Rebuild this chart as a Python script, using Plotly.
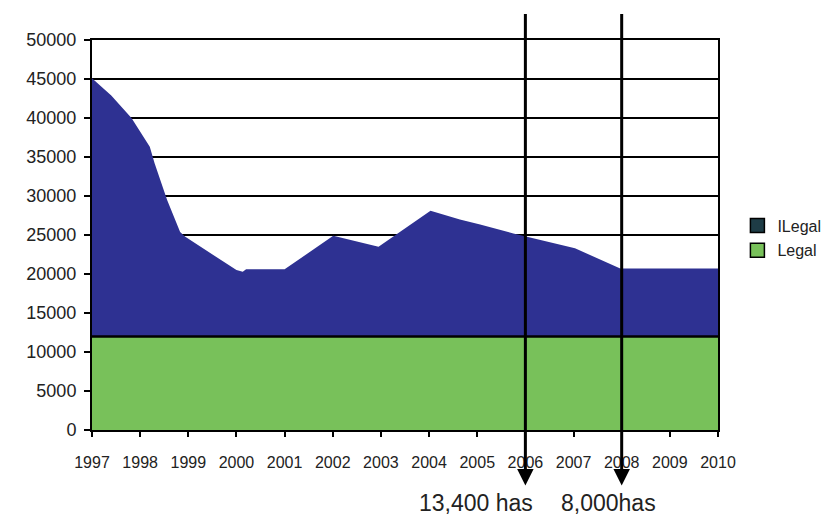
import plotly.graph_objects as go

# Data
years = [1997.0, 1997.4, 1997.82, 1998.2, 1998.3, 1998.56, 1998.83, 1998.93,
         2000.0, 2000.13, 2000.2, 2001.0, 2002.01, 2002.95, 2004.03, 2004.64,
         2005.06, 2005.75, 2007.03, 2007.97, 2010.0]
legal = [12000, 12000, 12000, 12000, 12000, 12000, 12000, 12000,
         12000, 12000, 12000, 12000, 12000, 12000, 12000, 12000,
         12000, 12000, 12000, 12000, 12000]
ilegal = [33100, 30900, 28000, 24300, 22200, 17500, 13400, 12800,
          8500, 8300, 8600, 8600, 12900, 11500, 16100, 15000,
          14350, 13200, 11300, 8700, 8700]

tick_years = [1997, 1998, 1999, 2000, 2001, 2002, 2003, 2004, 2005, 2006,
              2007, 2008, 2009, 2010]
y_ticks = [0, 5000, 10000, 15000, 20000, 25000, 30000, 35000, 40000, 45000, 50000]

arrow_years = [2006, 2008]
arrow_labels = ["13,400 has", "8,000has"]
arrow_label_x = [2004.97, 2007.72]

GREEN = "#78c15a"
BLUE = "#2e3192"
DARK = "#1e3c46"
FONT = "Liberation Sans, Arial, sans-serif"

fig = go.Figure()

fig.add_trace(go.Scatter(
    x=years, y=legal, stackgroup="s", mode="lines",
    line=dict(color="black", width=2.5), fillcolor=GREEN,
    name="Legal", showlegend=False, hoverinfo="skip"))
fig.add_trace(go.Scatter(
    x=years, y=ilegal, stackgroup="s", mode="lines",
    line=dict(color=BLUE, width=0), fillcolor=BLUE,
    name="ILegal", showlegend=False, hoverinfo="skip"))

# legend entries
fig.add_trace(go.Scatter(x=[None], y=[None], name="ILegal", legendgroup="a",
                         mode="markers",
                         marker=dict(symbol="square", size=14, color=DARK,
                                     line=dict(color="black", width=1.5))))
fig.add_trace(go.Scatter(x=[None], y=[None], name="Legal", legendgroup="b",
                         mode="markers",
                         marker=dict(symbol="square", size=14, color=GREEN,
                                     line=dict(color="black", width=1.5))))

for yr, lab, lx in zip(arrow_years, arrow_labels, arrow_label_x):
    fig.add_annotation(x=yr, y=-0.142, ax=0, ay=-473,
                       xref="x", yref="paper", axref="pixel", ayref="pixel",
                       text="", showarrow=True, arrowhead=2, arrowsize=1.1,
                       arrowwidth=3, arrowcolor="black")
    fig.add_annotation(x=lx, y=-0.187, xref="x", yref="paper", text=lab,
                       showarrow=False, yanchor="middle",
                       font=dict(family=FONT, size=23, color="#222"))

fig.update_layout(
    width=829, height=515,
    margin=dict(l=84, r=119, t=32, b=93, autoexpand=False),
    paper_bgcolor="white", plot_bgcolor="white",
    font=dict(family=FONT, color="#222"),
    showlegend=True,
    legend=dict(x=1.031, y=0.568, xanchor="left", yanchor="top",
                font=dict(size=16, family=FONT, color="#222"),
                tracegroupgap=1, traceorder="grouped",
                bgcolor="rgba(0,0,0,0)"),
    xaxis=dict(range=[1997, 2010], tickvals=tick_years,
               ticktext=[str(t) for t in tick_years],
               showgrid=False, zeroline=False, automargin=False,
               showline=True, linecolor="black", linewidth=2, mirror=True,
               ticks="outside", ticklen=5, tickwidth=1.5, tickcolor="black",
               tickfont=dict(size=16, family=FONT, color="#222"),
               ticklabelstandoff=12),
    yaxis=dict(range=[0, 50000], tickvals=y_ticks,
               ticktext=[str(v) for v in y_ticks],
               showgrid=True, gridcolor="black", gridwidth=2,
               zeroline=False, automargin=False,
               showline=True, linecolor="black", linewidth=2, mirror=True,
               ticks="outside", ticklen=6, tickwidth=1.5, tickcolor="black",
               tickfont=dict(size=18, family=FONT, color="#222"),
               ticklabelstandoff=4),
)

fig.write_html("out.html")
